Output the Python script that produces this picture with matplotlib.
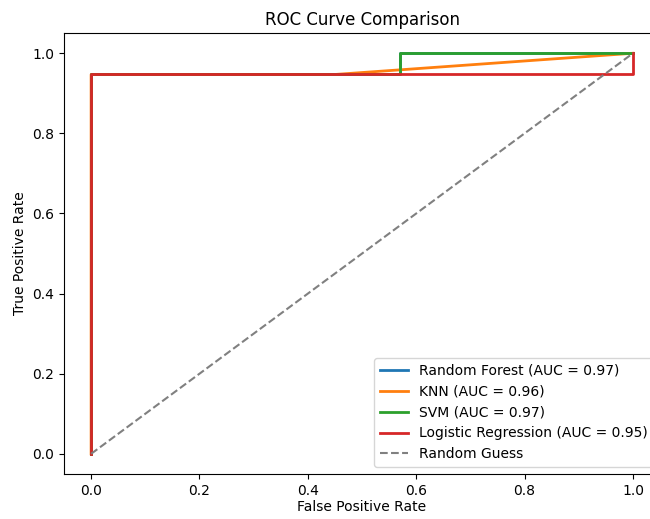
import matplotlib

matplotlib.use("Agg")
import matplotlib.pyplot as plt

# ROC points
rf_fpr = [0.0, 0.0, 0.57, 0.57, 1.0]
rf_tpr = [0.0, 0.947, 0.947, 1.0, 1.0]
knn_fpr = [0.0, 0.0, 0.45, 1.0]
knn_tpr = [0.0, 0.947, 0.947, 1.0]
svm_fpr = [0.0, 0.0, 0.57, 0.57, 1.0]
svm_tpr = [0.0, 0.947, 0.947, 1.0, 1.0]
lr_fpr = [0.0, 0.0, 1.0, 1.0]
lr_tpr = [0.0, 0.947, 0.947, 1.0]

labels = [
    "Random Forest (AUC = 0.97)",
    "KNN (AUC = 0.96)",
    "SVM (AUC = 0.97)",
    "Logistic Regression (AUC = 0.95)",
]

fig = plt.figure(figsize=(6.5, 5.19), dpi=100)
ax = fig.add_axes([0.0985, 0.087, 0.917, 0.849])

ax.plot(rf_fpr, rf_tpr, color="#1f77b4", lw=2, label=labels[0])
ax.plot(knn_fpr, knn_tpr, color="#ff7f0e", lw=2, label=labels[1])
ax.plot(svm_fpr, svm_tpr, color="#2ca02c", lw=2, label=labels[2])
ax.plot(lr_fpr, lr_tpr, color="#d62728", lw=2, label=labels[3])
ax.plot([0, 1], [0, 1], color="gray", linestyle="--", label="Random Guess")

ax.set_xlim(-0.05, 1.05)
ax.set_ylim(-0.05, 1.05)
ax.set_xlabel("False Positive Rate", labelpad=2)
ax.set_ylabel("True Positive Rate")
ax.set_title("ROC Curve Comparison")
ax.legend(loc="lower right")

fig.savefig("out.png", dpi=100)
plt.close(fig)
